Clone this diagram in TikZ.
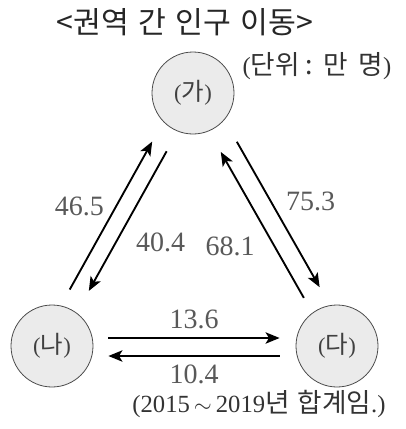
\documentclass[tikz,border=0pt]{standalone}
\usepackage{fontspec}
\setmainfont{Liberation Serif}
\newfontfamily\kr{Noto Sans CJK KR}[Scale=1.08]
\usetikzlibrary{arrows.meta,calc}

\begin{document}
\begin{tikzpicture}[x=0.75pt,y=-0.75pt,
  region/.style={circle,draw=black!70,line width=0.6pt,fill=black!8,minimum size=61.5pt,inner sep=0pt,text=black!75,font=\fontsize{17}{19}\selectfont},
  arr/.style={-{Stealth[length=10.5pt,width=8.5pt,inset=2.5pt]},line width=1.4pt},
  num/.style={text=black!65,font=\fontsize{21}{23}\selectfont},
  note/.style={text=black!80,font=\fontsize{18.5}{20}\selectfont}]
\useasboundingbox (0,0) rectangle (405,429);
\node[font=\fontsize{21}{24}\selectfont\kr,text=black!85] (title) at (185,22) {<권역\hspace{7pt}간\hspace{7pt}인구\hspace{7pt}이동>};
\node[note] (unit) at (317,66) {({\kr 단위\hspace{4pt}:\hspace{8pt}만\hspace{8pt}명})};
\node[region] (ga) at (193,93) {({\kr 가})};
\node[region] (na) at (52,346) {({\kr 나})};
\node[region] (da) at (337,346) {({\kr 다})};
\node[note] (foot) at (259,404) {(2015\hspace{3pt}$\sim$\hspace{3pt}2019{\kr 년\hspace{6pt}합계임}.)};
% (가)-(나)
\draw[arr] ($(na)!0.2!(ga)!9pt!90:(ga)$) -- node[num,pos=0.56,left=5pt] (l465) {46.5} ($(na)!0.785!(ga)!9pt!90:(ga)$);
\draw[arr] ($(na)!0.78!(ga)!4pt!-90:(ga)$) -- node[num,pos=0.65,right=11pt] (l404) {40.4} ($(na)!0.228!(ga)!4pt!-90:(ga)$);
% (가)-(다)
\draw[arr] ($(ga)!0.22!(da)!10.5pt!90:(da)$) -- node[num,pos=0.41,right=7.5pt] (l753) {75.3} ($(ga)!0.795!(da)!10.5pt!90:(da)$);
\draw[arr] ($(ga)!0.8!(da)!3.75pt!-90:(da)$) -- node[num,pos=0.35,left=11pt] (l681) {68.1} ($(ga)!0.223!(da)!3.75pt!-90:(da)$);
% (나)-(다)
\draw[arr] ([yshift=6pt,xshift=11.25pt]na.east) -- node[num,above=3pt] (l136) {13.6} ([yshift=6pt,xshift=-12pt]da.west);
\draw[arr] ([yshift=-7.5pt,xshift=-12pt]da.west) -- node[num,below=2.7pt] (l104) {10.4} ([yshift=-7.5pt,xshift=11.25pt]na.east);
\end{tikzpicture}
\end{document}
